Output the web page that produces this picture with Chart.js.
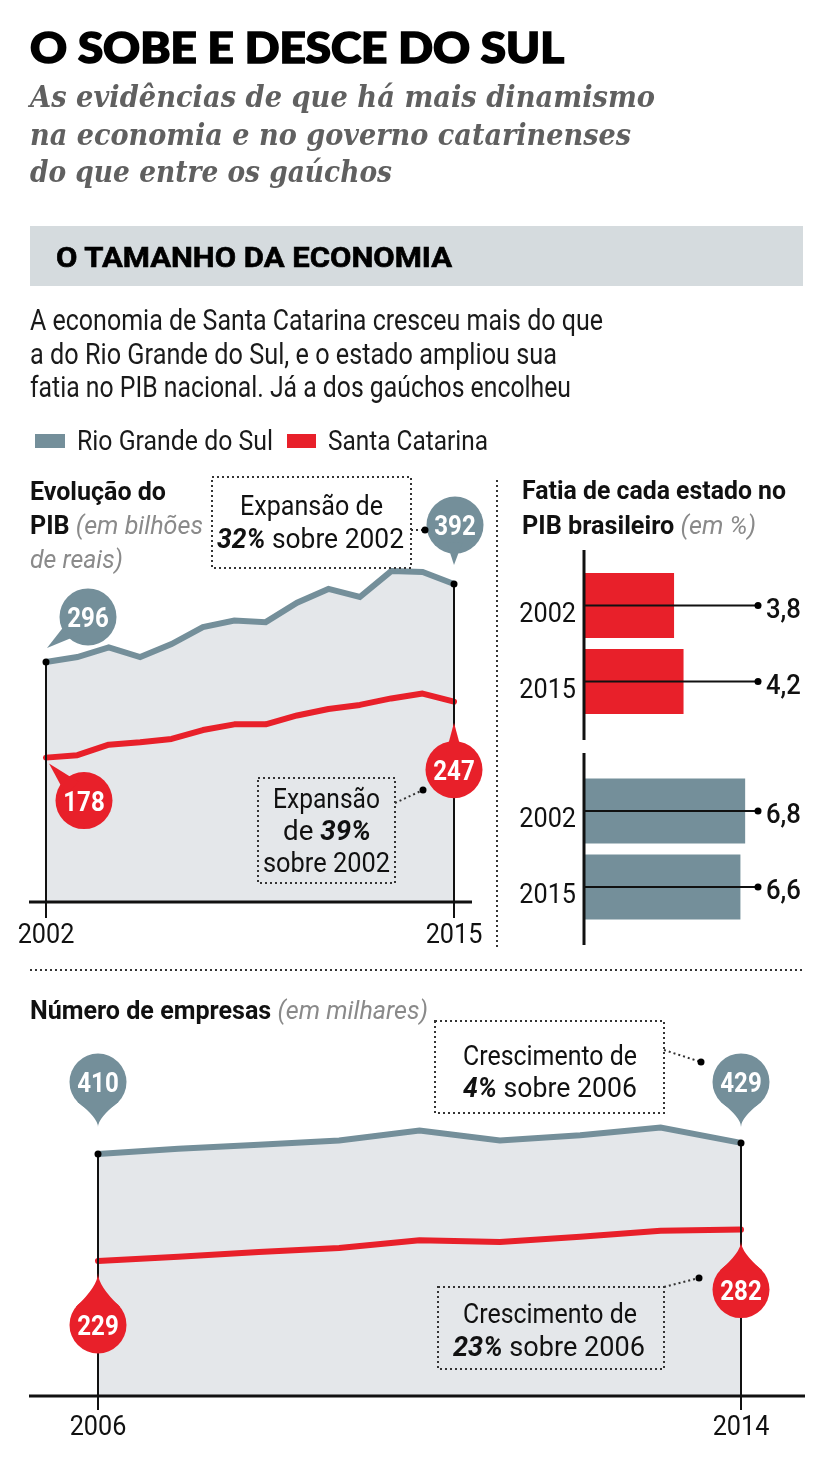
<!DOCTYPE html>
<html><head><meta charset="utf-8">
<script src="https://cdn.jsdelivr.net/npm/chart.js@4.4.1/dist/chart.umd.min.js"></script>
<style>
html,body{margin:0;padding:0;background:#fff;}
body{width:833px;height:1469px;position:relative;overflow:hidden;font-family:Roboto,sans-serif;color:#161616;}
.t{position:absolute;white-space:nowrap;transform-origin:0 0;line-height:1;z-index:5;}
.bm{display:inline-block;width:0;height:0;vertical-align:baseline;}
canvas{position:absolute;}
.gi{font-weight:400;font-style:italic;color:#8a8a8a;}
svg{position:absolute;left:0;top:0;z-index:4;}
.heavy{-webkit-text-stroke:1.6px #000;}
.semi{-webkit-text-stroke:0.6px #000;}
</style></head><body>
<div style="position:absolute;left:30px;top:226px;width:773px;height:60px;background:#d5dbde;"></div>
<div style="position:absolute;left:35px;top:434px;width:30px;height:14px;background:#748f9a;"></div>
<div style="position:absolute;left:287px;top:434px;width:29px;height:14px;background:#e8202a;"></div>
<canvas id="c1" width="497" height="490" style="left:0;top:470px"></canvas>
<canvas id="c2" width="333" height="210" style="left:500px;top:540px"></canvas>
<canvas id="c3" width="333" height="210" style="left:500px;top:745px"></canvas>
<canvas id="c4" width="833" height="479" style="left:0;top:990px"></canvas>
<svg width="833" height="1469" viewBox="0 0 833 1469">
  <g fill="none" stroke="#333" stroke-width="2" stroke-dasharray="2 3">
    <line x1="497" y1="480" x2="497" y2="950"/>
    <line x1="30" y1="970" x2="803" y2="970"/>
    <rect x="212" y="477" width="199" height="91"/>
    <rect x="258" y="778" width="137" height="105"/>
    <rect x="435" y="1021" width="229" height="92"/>
    <rect x="438" y="1287" width="226" height="82"/>
    <line x1="411" y1="530" x2="425" y2="530"/>
    <line x1="395" y1="803" x2="423" y2="790"/>
    <line x1="664" y1="1050" x2="701" y2="1062"/>
    <line x1="664" y1="1287" x2="699" y2="1278"/>
  </g>
  <g fill="#000">
    <circle cx="425" cy="530" r="3.5"/><circle cx="423" cy="790" r="3.5"/>
    <circle cx="701" cy="1062" r="3.5"/><circle cx="699" cy="1278" r="3.5"/>
  </g>
</svg>
<script>
// ---------- DATA ----------
const pibYears = ['2002','2003','2004','2005','2006','2007','2008','2009','2010','2011','2012','2013','2014','2015'];
const pibRS = [296,302,314,302,318,339,347,345,369,386,376,408,407,392];
const pibSC = [178,181,194,197,201,212,219,219,230,238,243,251,257,247];
const shareYears = ['2002','2015'];
const shareSC = [3.8,4.2];
const shareRS = [6.8,6.6];
const empYears = ['2006','2007','2008','2009','2010','2011','2012','2013','2014'];
const empRS = [410,419,426,433,450,433,442,455,429];
const empSC = [229,236,244,251,264,261,270,280,282];

const GREY = '#748f9a', RED = '#e8202a', FILL = '#e4e7ea';

// ---------- TEXT ----------
function T(html, x, base, font, color, w, align, cls) {
  const d = document.createElement('div');
  d.className = 't' + (cls ? ' ' + cls : '');
  d.style.font = font;
  d.style.color = color || '#161616';
  d.innerHTML = html + '<span class="bm"></span>';
  document.body.appendChild(d);
  const bm = d.querySelector('.bm');
  const b = bm.offsetTop + bm.offsetHeight;
  const nat = d.getBoundingClientRect().width;
  const s = w ? w / nat : 1;
  const ww = nat * s;
  d.style.left = (align === 'center' ? x - ww / 2 : x) + 'px';
  d.style.top = (base - b) + 'px';
  d.style.transform = 'scaleX(' + s + ')';
}
T('O SOBE E DESCE DO SUL', 30, 63, '900 42px "Lato Black", Lato', '#000', 534, null, 'heavy');
const SUB = 'italic 700 29px "DejaVu Serif"';
T('As evidências de que há mais dinamismo', 30, 107, SUB, '#606060', 625);
T('na economia e no governo catarinenses', 30, 144.5, SUB, '#606060', 601);
T('do que entre os gaúchos', 30, 182, SUB, '#606060', 362);
T('O TAMANHO DA ECONOMIA', 56, 267, '700 27px Roboto', '#000', 396, null, 'semi');
const BODY = '400 29px Roboto';
T('A economia de Santa Catarina cresceu mais do que', 30, 330, BODY, '#1a1a1a', 573);
T('a do Rio Grande do Sul, e o estado ampliou sua', 30, 364, BODY, '#1a1a1a', 527);
T('fatia no PIB nacional. Já a dos gaúchos encolheu', 30, 397, BODY, '#1a1a1a', 541);
T('Rio Grande do Sul', 77, 450, '400 28px Roboto', '#1a1a1a', 196);
T('Santa Catarina', 328, 450, '400 28px Roboto', '#1a1a1a', 160);
const TT = '700 25px Roboto';
T('Evolução do', 30, 500, TT, '#111', 136);
T('PIB <span class="gi">(em bilhões</span>', 30, 534, TT, '#111', 173);
T('<span class="gi">de reais)</span>', 30, 568, TT, '#111', 93);
T('Fatia de cada estado no', 522, 499, TT, '#111', 264);
T('PIB brasileiro <span class="gi">(em %)</span>', 522, 534, TT, '#111', 234);
T('Número de empresas <span class="gi">(em milhares)</span>', 30, 1019, TT, '#111', 398);
const BX = '400 27px Roboto';
T('Expansão de', 311.5, 515, BX, '#111', 143, 'center');
T('<b><i>32%</i></b> sobre 2002', 310.5, 548, BX, '#111', 187, 'center');
T('Expansão', 326.5, 808, BX, '#111', 107, 'center');
T('de <b><i>39%</i></b>', 327, 840, BX, '#111', 88, 'center');
T('sobre 2002', 326.5, 872, BX, '#111', 127, 'center');
T('Crescimento de', 550, 1065, BX, '#111', 174, 'center');
T('<b><i>4%</i></b> sobre 2006', 550, 1097, BX, '#111', 174, 'center');
T('Crescimento de', 550, 1323, BX, '#111', 174, 'center');
T('<b><i>23%</i></b> sobre 2006', 549, 1356, BX, '#111', 192, 'center');

// ---------- CANVAS HELPERS ----------
function txt(ctx, s, x, y, font, color, align, sx) {
  ctx.save();
  ctx.translate(x, y);
  ctx.scale(sx || 1, 1);
  ctx.font = font; ctx.fillStyle = color; ctx.textAlign = align || 'left';
  ctx.textBaseline = 'alphabetic';
  ctx.fillText(s, 0, 0);
  ctx.restore();
}
function bubble(ctx, cx, cy, r, tx, ty, color, text, w) {
  const dx = tx - cx, dy = ty - cy, d = Math.hypot(dx, dy);
  const a0 = Math.atan2(dy, dx);
  ctx.fillStyle = color;
  ctx.beginPath(); ctx.arc(cx, cy, r, 0, Math.PI * 2); ctx.fill();
  ctx.beginPath();
  if (w === 'tan') {
    const th = Math.acos(r / d) * 0.9;
    const b1x = cx + r * Math.cos(a0 + th), b1y = cy + r * Math.sin(a0 + th);
    const b2x = cx + r * Math.cos(a0 - th), b2y = cy + r * Math.sin(a0 - th);
    const mx = cx + (r + (d - r) * 0.45) * Math.cos(a0), my = cy + (r + (d - r) * 0.45) * Math.sin(a0);
    ctx.moveTo(b1x, b1y);
    ctx.quadraticCurveTo(mx, my, tx, ty);
    ctx.quadraticCurveTo(mx, my, b2x, b2y);
  } else {
    const ux = dx / d, uy = dy / d, px = -uy, py = ux;
    const bx = cx + ux * r * 0.6, by = cy + uy * r * 0.6;
    ctx.moveTo(bx + px * w, by + py * w);
    ctx.lineTo(tx, ty);
    ctx.lineTo(bx - px * w, by - py * w);
  }
  ctx.closePath(); ctx.fill();
  txt(ctx, text, cx, cy + 10, '700 28px Roboto', '#fff', 'center', 0.86);
}

const lineDeco = {
  id: 'lineDeco',
  afterDatasetsDraw(chart, args, o) {
    const { ctx, chartArea: a, scales: { x } } = chart;
    const n = chart.data.labels.length;
    const top = chart.getDatasetMeta(o.topIdx).data;
    ctx.save();
    ctx.strokeStyle = '#111';
    ctx.lineWidth = 3;
    ctx.beginPath(); ctx.moveTo(a.left - o.axL, a.bottom); ctx.lineTo(a.right + o.axR, a.bottom); ctx.stroke();
    ctx.lineWidth = 2;
    [0, n - 1].forEach(i => {
      const p = top[i];
      ctx.beginPath(); ctx.moveTo(p.x, p.y); ctx.lineTo(p.x, a.bottom + o.vExt); ctx.stroke();
    });
    o.bubbles.forEach(b => {
      const p = chart.getDatasetMeta(b.ds).data[b.i];
      const val = chart.data.datasets[b.ds].data[b.i];
      bubble(ctx, p.x + b.cx, p.y + b.cy, 28.5, p.x + b.tx, p.y + b.ty, b.color, String(val), b.w);
    });
    ctx.fillStyle = '#000';
    [0, n - 1].forEach(i => {
      const p = top[i];
      ctx.beginPath(); ctx.arc(p.x, p.y, 3.5, 0, Math.PI * 2); ctx.fill();
    });
    [0, n - 1].forEach(i => txt(ctx, chart.data.labels[i], x.getPixelForValue(i), a.bottom + o.tickY, '400 28px Roboto', '#111', 'center', 0.9));
    ctx.restore();
  }
};

const barDeco = {
  id: 'barDeco',
  afterDatasetsDraw(chart, args, o) {
    const { ctx, chartArea: a } = chart;
    const meta = chart.getDatasetMeta(0);
    const vals = chart.data.datasets[0].data;
    ctx.save();
    ctx.strokeStyle = '#111';
    ctx.lineWidth = 3;
    ctx.beginPath(); ctx.moveTo(a.left, a.top - o.ext[0]); ctx.lineTo(a.left, a.bottom + o.ext[1]); ctx.stroke();
    meta.data.forEach((bar, i) => {
      ctx.lineWidth = 2;
      ctx.beginPath(); ctx.moveTo(a.left, bar.y); ctx.lineTo(a.left + 174, bar.y); ctx.stroke();
      ctx.fillStyle = '#000';
      ctx.beginPath(); ctx.arc(a.left + 174, bar.y, 3.5, 0, Math.PI * 2); ctx.fill();
      txt(ctx, vals[i].toFixed(1).replace('.', ','), a.left + 182, bar.y + 12, '500 27px Roboto', '#111', 'left', 0.95);
      txt(ctx, chart.data.labels[i], a.left - 8, bar.y + 16, '400 28px Roboto', '#111', 'right', 0.9);
    });
    ctx.restore();
  }
};

const baseOpts = { responsive: false, animation: false, devicePixelRatio: 1, events: [] };

function lineChart(id, labels, rs, sc, pad, ymax, deco) {
  return new Chart(document.getElementById(id), {
    type: 'line',
    data: {
      labels,
      datasets: [
        { data: sc, borderColor: RED, borderWidth: 6, fill: false, pointRadius: 0, tension: 0, order: 0, borderCapStyle: 'round', borderJoinStyle: 'round' },
        { data: rs, borderColor: GREY, borderWidth: 6, fill: 'origin', backgroundColor: FILL, pointRadius: 0, tension: 0, order: 1, borderJoinStyle: 'miter' }
      ]
    },
    options: Object.assign({}, baseOpts, {
      layout: { padding: pad },
      scales: { x: { display: false }, y: { display: false, min: 0, max: ymax } },
      plugins: { legend: { display: false }, tooltip: { enabled: false }, lineDeco: deco }
    }),
    plugins: [lineDeco]
  });
}

lineChart('c1', pibYears, pibRS, pibSC, { left: 46, right: 43, top: 67, bottom: 58 }, 450, {
  topIdx: 1, axL: 17, axR: 18, vExt: 16, tickY: 41,
  bubbles: [
    { ds: 1, i: 0, cx: 42, cy: -45, tx: 1, ty: -14, color: GREY, w: 9 },
    { ds: 1, i: pibYears.length - 1, cx: 1, cy: -59, tx: 0, ty: -19, color: GREY, w: 8 },
    { ds: 0, i: 0, cx: 38, cy: 43, tx: 3, ty: 6, color: RED, w: 9 },
    { ds: 0, i: pibYears.length - 1, cx: 0, cy: 68, tx: 0, ty: 21, color: RED, w: 8 }
  ]
});

lineChart('c4', empYears, empRS, empSC, { left: 98, right: 92, top: 111, bottom: 73 }, 500, {
  topIdx: 1, axL: 69, axR: 64, vExt: 14, tickY: 39,
  bubbles: [
    { ds: 1, i: 0, cx: 0, cy: -72, tx: 0, ty: -27, color: GREY, w: 'tan' },
    { ds: 1, i: empYears.length - 1, cx: 0, cy: -61, tx: 0, ty: -16, color: GREY, w: 'tan' },
    { ds: 0, i: 0, cx: 0, cy: 64, tx: 0, ty: 12, color: RED, w: 'tan' },
    { ds: 0, i: empYears.length - 1, cx: 0, cy: 60, tx: 0, ty: 12, color: RED, w: 'tan' }
  ]
});

function barChart(id, vals, color, pad, ext) {
  return new Chart(document.getElementById(id), {
    type: 'bar',
    data: { labels: shareYears, datasets: [{ data: vals, backgroundColor: color, borderWidth: 0, categoryPercentage: 1, barPercentage: 0.855 }] },
    options: Object.assign({}, baseOpts, {
      indexAxis: 'y',
      layout: { padding: pad },
      scales: { x: { display: false, min: 0, max: 8 }, y: { display: false } },
      plugins: { legend: { display: false }, tooltip: { enabled: false }, barDeco: { ext } }
    }),
    plugins: [barDeco]
  });
}
barChart('c2', shareSC, RED, { left: 84, right: 59.4, top: 27.5, bottom: 30.5 }, [17.5, 20.5]);
barChart('c3', shareRS, GREY, { left: 84, right: 59.4, top: 28, bottom: 30 }, [20, 20]);
</script>
</body></html>
